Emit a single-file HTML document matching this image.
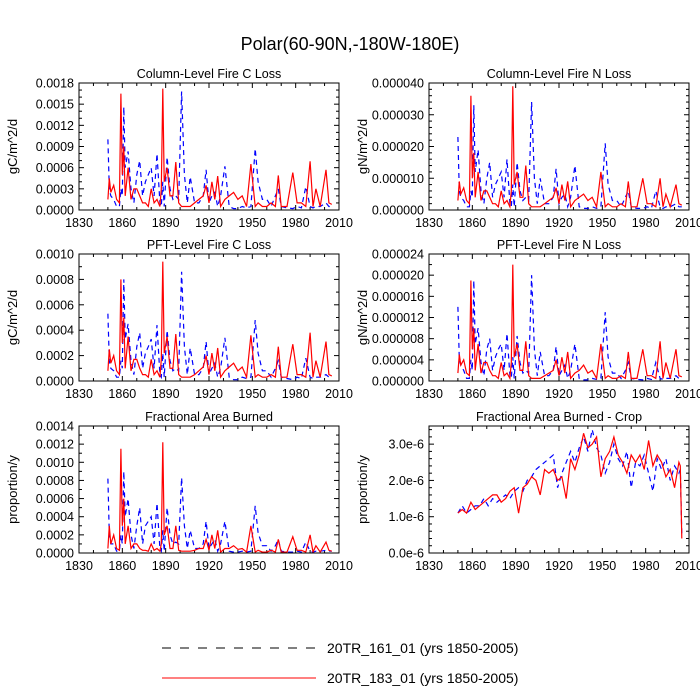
<!DOCTYPE html>
<html><head><meta charset="utf-8"><style>
html,body{margin:0;padding:0;background:#fff;}
svg{display:block;font-family:"Liberation Sans",sans-serif;}
</style></head><body>
<svg id="chart" width="700" height="700" viewBox="0 0 700 700">
<text x="350" y="50" font-size="18" text-anchor="middle">Polar(60-90N,-180W-180E)</text>
<g id="panels"></g>
<g>
<line x1="162" y1="648" x2="316" y2="648" stroke="#000" stroke-width="1" stroke-dasharray="9,9"/>
<text x="327" y="653" font-size="14">20TR_161_01 (yrs 1850-2005)</text>
<line x1="162" y1="678" x2="316" y2="678" stroke="#f00" stroke-width="1"/>
<text x="327" y="683" font-size="14">20TR_183_01 (yrs 1850-2005)</text>
</g>
</svg>
<script>
const keyYears=[1850,1851,1852,1854,1856,1858,1859,1860,1861,1862,1864,1866,1868,1870,1872,1874,1876,1878,1880,1882,1884,1886,1887,1888,1889,1891,1893,1895,1897,1899,1901,1903,1905,1907,1910,1913,1916,1918,1920,1922,1924,1926,1928,1931,1934,1937,1940,1943,1946,1949,1952,1954,1957,1960,1963,1966,1968,1970,1974,1978,1981,1984,1987,1990,1992,1994,1997,2001,2003,2005];
const colCRed=[1.5,4.5,2.5,3.5,1.5,1,16.5,5,9,2,6,1.5,3,3,2,1,1,0.5,3,1,1.5,0.5,3,17.2,4,6,2,2,6.8,1,0.5,0.5,0.5,0.5,1,1.5,2,3.5,1,4,1.5,4.8,0.5,1.5,2,2.5,1.5,2,0.5,6.5,0.5,1,0.5,0.5,1,0.5,4.9,0.5,0.5,5.3,1,1,0.5,6.9,0.5,3,0.5,5.7,1,0.8];
const colCBlue=[10,3,2,1.5,0.5,0.5,3,2,14.6,6,8.3,3,1,5,7,2,4,5,6,2,8,1,0.5,4,0.5,7.5,3,1.5,2,1.5,16.8,5,1,4.7,1,1,2,5.7,1,2,2.5,0.5,2,6.2,0.5,0.2,0.2,0.5,0.3,0.5,8.7,4,1.5,1.5,0.5,2,3,0.5,0.3,0.2,0.5,0.3,3.3,0.5,0.3,0.5,0.5,1,0.5,0.5];
const colNRed=[3,9,5,7,3,2,36,10,18,4,12,3,6,6,4,2,2,1,6,2,3,1,6,39,8,12,4,4,14,2,1,1,1,1,2,3,4,7,2,8,3,9,1,3,4,5,3,4,1,12,1,2,1,1,2,1,9,1,1,10,2,2,1,10,1,5,1,8,2,1.5];
const colNBlue=[23,6,4,3,1,1,6,4,33,12,19,6,2,10,15,4,8,10,12,4,16,2,1,8,1,15,6,3,4,3,34,10,2,10,2,2,4,13,2,4,5,1,4,14,1,0.5,0.5,1,0.5,1,21,8,3,3,1,4,6,1,0.5,0.5,1,0.5,6,1,0.5,1,1,2,1,1];
const pftCRed=[0.8,2.5,1.4,2,0.8,0.5,8,3,5,1,3.5,0.8,1.7,1.7,1,0.5,0.5,0.3,1.7,0.5,0.8,0.3,1.7,9.4,2.2,3.5,1,1,3.7,0.5,0.3,0.3,0.3,0.3,0.5,0.8,1.1,2,0.5,2.2,0.8,2.6,0.3,0.8,1.1,1.4,0.8,1.1,0.3,3.6,0.3,0.5,0.3,0.3,0.5,0.3,2.7,0.3,0.3,2.9,0.5,0.5,0.3,3.8,0.3,1.6,0.3,3.1,0.5,0.4];
const pftCBlue=[5.3,1.6,1,0.8,0.3,0.3,1.6,1,8,3.3,4.5,1.6,0.5,2.7,3.8,1,2.2,2.7,3.3,1,4.4,0.5,0.3,2.2,0.3,4,1.6,0.8,1,0.8,8.6,2.7,0.5,2.6,0.5,0.5,1,3.1,0.5,1,1.4,0.3,1,3.4,0.3,0.1,0.1,0.3,0.2,0.3,4.8,2.2,0.8,0.8,0.3,1,1.6,0.3,0.2,0.1,0.3,0.2,1.8,0.3,0.2,0.3,0.3,0.5,0.3,0.3];
const pftNRed=[1.5,5,3,4,1.5,1,19,6,10,2,7,1.5,3.5,3.5,2,1,1,0.5,3.5,1,1.5,0.5,3.5,22,4.5,7,2,2,7.5,1,0.5,0.5,0.5,0.5,1,1.5,2,4,1,4.5,1.5,5.5,0.5,1.5,2,3,1.5,2,0.5,7,0.5,1,0.5,0.5,1,0.5,5.5,0.5,0.5,6,1,1,0.5,7.5,0.5,3.5,0.5,6,1,0.8];
const pftNBlue=[14,4,3,2,0.5,0.5,4,2,19,7,10,3.5,1,6,8,2,4.5,6,7,2,9,1,0.5,4.5,0.5,8.5,3.5,1.5,2,1.5,20,6,1,5.5,1,1,2,6.5,1,2,3,0.5,2,7,0.5,0.2,0.2,0.5,0.3,0.5,13,4.5,1.5,1.5,0.5,2,3.5,0.5,0.3,0.2,0.5,0.3,3.5,0.5,0.3,0.5,0.5,1,0.5,0.5];
const fabRed=[0.5,3,1,2,0.5,0.3,11.5,3,6,1,3,0.5,1,1,0.5,0.3,0.3,0.2,1,0.3,0.5,0.2,1,12.2,2,3,0.5,0.5,3,0.3,0.2,0.2,0.2,0.2,0.3,0.5,0.5,1.5,0.3,2,0.5,2.5,0.1,0.5,0.5,0.8,0.4,0.5,0.1,3,0.1,0.3,0.1,0.1,0.3,0.1,1.5,0.1,0.1,1.8,0.3,0.3,0.1,2,0.1,0.8,0.1,1.2,0.3,0.2];
const fabBlue=[8.2,2,1,1,0.2,0.2,2,1,9,4,6,2,0.5,3,5,1,3,3.5,4,1,5.5,0.5,0.2,2.5,0.2,5,2,1,1.2,1,8.3,3,0.5,2.5,0.5,0.5,1,3.5,0.5,1,1.5,0.2,1,3.5,0.2,0.1,0.1,0.2,0.1,0.2,5.2,2.2,0.8,0.8,0.2,0.8,1.5,0.2,0.1,0.1,0.2,0.1,1.2,0.2,0.1,0.2,0.2,0.3,0.2,0.2];
const cropYears=[1850,1853,1856,1859,1862,1865,1868,1871,1874,1877,1880,1883,1886,1889,1892,1895,1898,1901,1904,1907,1910,1913,1916,1919,1922,1925,1928,1931,1934,1937,1940,1943,1946,1949,1952,1955,1958,1961,1964,1967,1970,1973,1976,1979,1982,1985,1988,1991,1994,1997,2000,2003,2004,2005];
const cropRed=[1.1,1.2,1.1,1.4,1.2,1.3,1.4,1.5,1.6,1.6,1.4,1.5,1.7,1.8,1.1,1.8,1.9,2.1,2.0,1.6,2.3,2.2,2.3,2.0,2.1,1.5,2.6,2.3,2.7,3.3,2.9,3.0,3.2,2.1,2.6,2.8,3.2,2.7,2.5,2.2,2.7,2.5,2.7,2.3,3.1,2.4,2.7,2.5,2.1,2.3,1.8,2.5,2.4,0.4];
const cropBlue=[1.1,1.3,1.1,1.2,1.3,1.3,1.5,1.3,1.5,1.4,1.5,1.6,1.5,1.7,1.8,1.7,2.0,2.1,2.3,2.4,2.5,2.6,2.7,1.8,2.2,2.5,2.8,2.5,2.9,3.2,2.8,3.4,2.9,2.7,2.2,2.5,3.0,2.6,2.4,2.8,1.8,2.5,2.4,2.7,2.2,1.7,2.6,2.3,2.6,2.0,2.4,2.2,2.3,0.5];
const xTicks=[1830,1860,1890,1920,1950,1980,2010];
const colCTicks=["0.0000","0.0003","0.0006","0.0009","0.0012","0.0015","0.0018"];
const colNTicks=["0.000000","0.000010","0.000020","0.000030","0.000040"];
const pftCTicks=["0.0000","0.0002","0.0004","0.0006","0.0008","0.0010"];
const pftNTicks=["0.000000","0.000004","0.000008","0.000012","0.000016","0.000020","0.000024"];
const fabTicks=["0.0000","0.0002","0.0004","0.0006","0.0008","0.0010","0.0012","0.0014"];
const cropTicks=["0.0e-6","1.0e-6","2.0e-6","3.0e-6"];

const NS="http://www.w3.org/2000/svg";
const root=document.getElementById('panels');
function mk(tag,attrs,parent){const e=document.createElementNS(NS,tag);for(const k in attrs)e.setAttribute(k,attrs[k]);parent.appendChild(e);return e;}

function panel(p){
  const g=mk('g',{},root);
  
  
  const L=p.x,R=p.x+260,T=p.y,B=p.y+127;
  const xs=v=>L+(v-1830)/180*(R-L);
  const ys=v=>B-(v/p.ymax)*(B-T);
  const t=mk('text',{x:(L+R)/2,y:T-5,'font-size':12.5,'text-anchor':'middle'},g);t.textContent=p.title;
  
  
  const yl=mk('text',{x:0,y:0,'font-size':13,'text-anchor':'middle',transform:`translate(${L-62},${(T+B)/2}) rotate(-90)`},g);yl.textContent=p.ylabel;
  
  
  // x ticks
  xTicks.forEach((v,i)=>{
    const x=xs(v);
    mk('line',{x1:x,y1:B,x2:x,y2:B-5,stroke:'#000'},g);
    mk('line',{x1:x,y1:T,x2:x,y2:T+5,stroke:'#000'},g);
    const tl=mk('text',{x:x,y:B+17,'font-size':12.5,'text-anchor':'middle'},g);tl.textContent=v;
    
    
    if(i<xTicks.length-1){for(let k=1;k<3;k++){const xm=xs(v+10*k);mk('line',{x1:xm,y1:B,x2:xm,y2:B-3,stroke:'#000'},g);mk('line',{x1:xm,y1:T,x2:xm,y2:T+3,stroke:'#000'},g);}}
  });
  // y ticks
  p.ticks.forEach((lab,i)=>{
    const v=i*p.step;const y=ys(v);
    mk('line',{x1:L,y1:y,x2:L+5,y2:y,stroke:'#000'},g);
    mk('line',{x1:R,y1:y,x2:R-5,y2:y,stroke:'#000'},g);
    const tl=mk('text',{x:L-5,y:y+4.5,'font-size':12.5,'text-anchor':'end'},g);tl.textContent=lab;
    
    
    for(let k=1;k<p.minor;k++){const vm=v+k*p.step/p.minor;if(vm>p.ymax+1e-12)break;const ym=ys(vm);mk('line',{x1:L,y1:ym,x2:L+3,y2:ym,stroke:'#000'},g);mk('line',{x1:R,y1:ym,x2:R-3,y2:ym,stroke:'#000'},g);}
  });
  const cp='clip-'+p.name;
  const cl=mk('clipPath',{id:cp},g);mk('rect',{x:L,y:T,width:R-L,height:B-T},cl);
  [[p.blue,'#00f','5,4','series-161-dashed'],[p.red,'#f00','','series-183-solid']].forEach(([vals,c,d,n])=>{
    const pts=vals.map((v,i)=>xs(p.years[i]).toFixed(1)+','+ys(v*p.unit).toFixed(1)).join(' ');
    const pl=mk('polyline',{points:pts,fill:'none',stroke:c,'stroke-width':1.2,'stroke-dasharray':d||'none','clip-path':`url(#${cp})`},g);
    
    
  });
  const fr=mk('rect',{x:L,y:T,width:R-L,height:B-T,fill:'none',stroke:'#000','stroke-width':1},g);
  
  
}
panel({name:'panel-column-c-loss',x:79,y:83,title:'Column-Level Fire C Loss',ylabel:'gC/m^2/d',ymax:0.0018,step:0.0003,minor:3,ticks:colCTicks,unit:1e-4,years:keyYears,red:colCRed,blue:colCBlue});
panel({name:'panel-column-n-loss',x:429,y:83,title:'Column-Level Fire N Loss',ylabel:'gN/m^2/d',ymax:0.00004,step:0.00001,minor:5,ticks:colNTicks,unit:1e-6,years:keyYears,red:colNRed,blue:colNBlue});
panel({name:'panel-pft-c-loss',x:79,y:254,title:'PFT-Level Fire C Loss',ylabel:'gC/m^2/d',ymax:0.0010,step:0.0002,minor:2,ticks:pftCTicks,unit:1e-4,years:keyYears,red:pftCRed,blue:pftCBlue});
panel({name:'panel-pft-n-loss',x:429,y:254,title:'PFT-Level Fire N Loss',ylabel:'gN/m^2/d',ymax:0.000024,step:0.000004,minor:2,ticks:pftNTicks,unit:1e-6,years:keyYears,red:pftNRed,blue:pftNBlue});
panel({name:'panel-fractional-area-burned',x:79,y:426,title:'Fractional Area Burned',ylabel:'proportion/y',ymax:0.0014,step:0.0002,minor:2,ticks:fabTicks,unit:1e-4,years:keyYears,red:fabRed,blue:fabBlue});
panel({name:'panel-fractional-area-burned-crop',x:429,y:426,title:'Fractional Area Burned - Crop',ylabel:'proportion/y',ymax:3.5e-6,step:1e-6,minor:5,ticks:cropTicks,unit:1e-6,years:cropYears,red:cropRed,blue:cropBlue});
</script>
</body></html>
